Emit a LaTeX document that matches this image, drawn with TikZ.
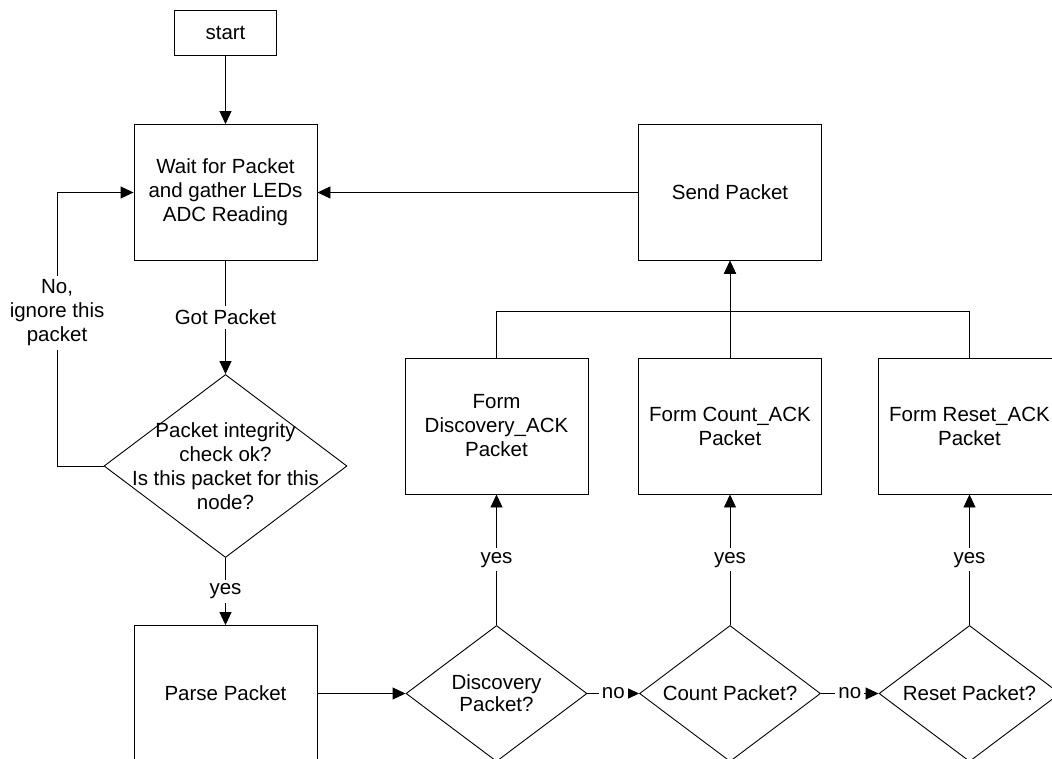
\documentclass[tikz,border=0pt]{standalone}
\usepackage{fontspec}
\setmainfont{Liberation Sans}
\usetikzlibrary{shapes.geometric,arrows.meta}
\begin{document}
\begin{tikzpicture}[x=1pt,y=-1pt,
  font=\fontsize{20.5}{24}\selectfont,
  box/.style={draw, line width=0.9pt, minimum width=183pt, minimum height=136pt, inner sep=0pt, align=center},
  dia/.style={draw, diamond, line width=0.9pt, inner sep=0pt},
  txt/.style={align=center, inner sep=0pt},
  lbl/.style={fill=white, inner sep=4pt, align=center},
  conn/.style={line width=0.9pt, -{Triangle[length=13pt,width=12pt]}}
]
\useasboundingbox (0,0) rectangle (1052,759);
\clip (0,0) rectangle (1052,759);

% nodes
\node[box, minimum width=102pt, minimum height=45pt] (start) at (225.5,32.5) {start};
\node[box] (wait) at (225.5,192.5) {Wait for Packet\\and gather LEDs\\ADC Reading};
\node[box] (send) at (730,192.5) {Send Packet};
\node[dia, minimum width=243pt, minimum height=183pt] (chk) at (225.5,466) {};
\node[txt] (chkt) at (chk.center) {Packet integrity\\check ok?\\Is this packet for this\\node?};
\node[box] (parse) at (225.5,693.5) {Parse Packet};

\node[box] (fdisc) at (496.5,426) {Form\\Discovery\_ACK\\Packet};
\node[box] (fcount) at (730,426) {Form Count\_ACK\\Packet};
\node[box] (freset) at (969.5,426) {Form Reset\_ACK\\Packet};

\node[dia, minimum width=181pt, minimum height=136pt] (ddisc) at (496.5,693.5) {};
\node[txt, font=\fontsize{20.5}{22}\selectfont] (ddisct) at (ddisc.center) {Discovery\\Packet?};
\node[dia, minimum width=181pt, minimum height=136pt] (dcount) at (730,693.5) {};
\node[txt] (dcountt) at (dcount.center) {Count Packet?};
\node[dia, minimum width=181pt, minimum height=136pt] (dreset) at (969.5,693.5) {};
\node[txt] (dresett) at (dreset.center) {Reset Packet?};

% connectors
\draw[conn] (start) -- (wait);
\draw[conn] (wait) -- node[lbl] (lgot) {Got Packet} (chk);
\draw[conn] (chk) -- node[lbl] (lyes) {yes} (parse);
\draw[conn] (chk.west) -- ++(-46.5,0) coordinate (nb)
  -- node[lbl, pos=0.56] (lno) {No,\\ignore this\\packet} (nb |- wait.west) -- (wait.west);
\draw[conn] (send.west) -- (wait.east);
\draw[conn] (parse) -- (ddisc);
\draw[conn] (ddisc) -- node[lbl, inner sep=3pt] (lno1) {no} (dcount);
\draw[conn] (dcount) -- node[lbl, inner sep=3pt] (lno2) {no} (dreset);
\draw[conn] (ddisc) -- node[lbl] (ly1) {yes} (fdisc);
\draw[conn] (dcount) -- node[lbl] (ly2) {yes} (fcount);
\draw[conn] (dreset) -- node[lbl] (ly3) {yes} (freset);
\draw[conn] (fdisc.north) -- ++(0,-46) -| (send.south);
\draw[conn] (fcount) -- (send);
\draw[conn] (freset.north) -- ++(0,-46) -| (send.south);
\end{tikzpicture}
\end{document}
